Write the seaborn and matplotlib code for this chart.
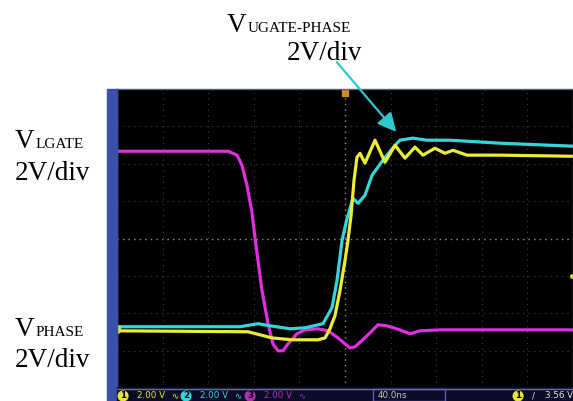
import pandas as pd
import matplotlib
matplotlib.use("Agg")
import matplotlib.pyplot as plt
import seaborn as sns
from matplotlib.patches import Rectangle, FancyArrowPatch

# time in ns (40 ns/div), level in V on screen (2 V/div, 0 = centre graticule line)
lgate_t = [-200, -102.6, -94.7, -90.4, -86.0, -81.6, -78.9, -72.8, -67.5, -63.2, -58.8,
           -54.4, -50.0, -42.1, -35.1, -23.7, -14.9, -6.1, 0, 4.4, 8.8, 19.3, 28.9, 36.8,
           48.2, 57.0, 65.8, 83.3, 200]
lgate_v = [4.67, 4.67, 4.46, 3.92, 2.85, 1.40, 0.00, -2.79, -4.56, -5.64, -6.01,
           -6.01, -5.64, -5.10, -4.89, -4.83, -4.94, -5.32, -5.64, -5.85, -5.80, -5.21, -4.62, -4.67,
           -4.89, -5.10, -4.94, -4.89, -4.89]

ugate_t = [-200, -92.1, -76.3, -65.8, -48.2, -35.1, -23.7, -19.3, -11.4, -7.0, -2.6, 1.8,
           7.0, 11.4, 17.5, 23.7, 33.3, 43.9, 48.2, 59.6, 71.9, 92.1, 136.0, 200]
ugate_v = [-4.72, -4.72, -4.56, -4.67, -4.83, -4.78, -4.62, -4.56, -3.70, -2.25, -0.11, 1.07,
           2.15, 1.88, 2.31, 3.38, 4.19, 4.99, 5.26, 5.37, 5.26, 5.26, 5.10, 4.94]

phase_t = [-200, -85.1, -64.0, -46.5, -23.7, -17.5, -13.2, -8.8, -4.4, 0, 2.6, 5.3, 7.9,
           10.5, 13.2, 17.5, 26.3, 35.1, 43.9, 52.6, 61.4, 68.4, 78.9, 87.7, 94.7, 107.0,
           136.0, 200]
phase_v = [-4.94, -4.99, -5.32, -5.42, -5.42, -5.32, -4.83, -4.13, -2.79, -1.18, -0.11, 1.23, 3.11,
           4.35, 4.56, 4.03, 5.26, 4.08, 4.99, 4.30, 4.89, 4.46, 4.83, 4.56, 4.72, 4.46,
           4.46, 4.40]

ch_scales = ["2.00 V", "2.00 V", "2.00 V"]
timebase = "40.0ns"
trig_level = "3.56 V"

sns.set_theme(style="dark")
plt.rcParams["font.family"] = ["Liberation Serif", "DejaVu Serif"]

W, H = 573, 401
fig = plt.figure(figsize=(W / 100, H / 100), dpi=100)
fig.patch.set_facecolor("white")


def fx(px):
    return px / W


def fy(py):
    return 1 - py / H


# blue bezel on the left and the status bar
fig.patches.append(Rectangle((fx(107), fy(401)), (117 - 107) / W, (401 - 89) / H,
                             transform=fig.transFigure, color="#3b50a8", zorder=0))
fig.patches.append(Rectangle((fx(117), fy(401)), (573 - 117) / W, (401 - 387) / H,
                             transform=fig.transFigure, color="#0c0c28", zorder=0))

ax = fig.add_axes([fx(117), fy(388), (573 - 117) / W, (388 - 89) / H])
ax.set_facecolor("black")

traces = [
    (lgate_t, lgate_v, "#e02ee0"),
    (ugate_t, ugate_v, "#34d6dc"),
    (phase_t, phase_v, "#ecec34"),
]
for t, v, col in traces:
    df = pd.DataFrame({"t": t, "v": v})
    sns.lineplot(data=df, x="t", y="v", color=col, lw=2.3, sort=False,
                 estimator=None, ax=ax, solid_joinstyle="round", solid_capstyle="round")

ax.set_xlim(-200, 200)
ax.set_ylim(-8, 8)
ax.set_xticks(range(-200, 201, 40))
ax.set_yticks(range(-8, 9, 2))
ax.set_xticklabels([])
ax.set_yticklabels([])
ax.set_xlabel("")
ax.set_ylabel("")
ax.tick_params(length=0)
ax.grid(True, color="#444444", ls=(0, (1, 4)), lw=0.8)
ax.axhline(0, color="#8a8a8a", ls=(0, (1, 3)), lw=1.0, zorder=1)
ax.axvline(0, color="#8a8a8a", ls=(0, (1, 3)), lw=1.0, zorder=1)
for s in ax.spines.values():
    s.set_color("#55607e")
    s.set_linewidth(1.0)

# trigger position, ground and trigger level markers
ax.plot([0], [7.8], marker="s", color="#d08a20", ms=5, clip_on=False)
ax.plot([-201], [-4.83], marker="o", color="#e6e634", ms=6, clip_on=False)
ax.plot([199], [-1.99], marker="o", color="#e6e634", ms=2.5, clip_on=False)

# status bar
fig.add_artist(plt.Line2D([fx(117), fx(573)], [fy(388.5), fy(388.5)], color="#6a72a0", lw=1))
fig.patches.append(Rectangle((fx(373), fy(401)), (445 - 373) / W, (401 - 389) / H,
                             transform=fig.transFigure, fc="none", ec="#4f60b8", lw=1))
bar_y = fy(398.5)
bar_font = dict(fontsize=6.3, family="DejaVu Sans", va="baseline")
ch_cols = ["#e6e634", "#34d6dc", "#b030b0"]
ch_x = [120, 183, 247]
for i, (x0, col, sc) in enumerate(zip(ch_x, ch_cols, ch_scales)):
    fig.text(fx(x0), bar_y, str(i + 1), color="black", fontweight="bold",
             bbox=dict(boxstyle="circle,pad=0.12", fc=col, ec="none"), **bar_font)
    fig.text(fx(x0 + 17), bar_y, sc, color=col, **bar_font)
    fig.text(fx(x0 + 51), bar_y, "∿", color=col, **bar_font)
fig.text(fx(378), bar_y, timebase, color="#c8c8c8", **bar_font)
fig.text(fx(515), bar_y, "1", color="black", fontweight="bold",
         bbox=dict(boxstyle="circle,pad=0.12", fc="#e6e634", ec="none"), **bar_font)
fig.text(fx(532), bar_y, "/", color="#e0e0e0", **bar_font)
fig.text(fx(545), bar_y, trig_level, color="#e0e0e0", **bar_font)

# channel annotations
big, small = 19.5, 11
label_font = dict(color="black", va="baseline")
fig.text(fx(15), fy(148), "V", fontsize=big, **label_font)
fig.text(fx(36), fy(148), "LGATE", fontsize=small, **label_font)
fig.text(fx(15), fy(180), "2V/div", fontsize=big, **label_font)

fig.text(fx(15), fy(336), "V", fontsize=big, **label_font)
fig.text(fx(36), fy(336), "PHASE", fontsize=small, **label_font)
fig.text(fx(15), fy(367), "2V/div", fontsize=big, **label_font)

fig.text(fx(227), fy(32), "V", fontsize=big, **label_font)
fig.text(fx(248), fy(32), "UGATE-PHASE", fontsize=small, **label_font)
fig.text(fx(287), fy(60), "2V/div", fontsize=big, **label_font)

arrow = FancyArrowPatch((fx(335), fy(60)), (fx(398), fy(134)), transform=fig.transFigure,
                        arrowstyle="-|>,head_length=0.8,head_width=0.4", mutation_scale=14,
                        color="#2ec8cc", lw=1.6, zorder=5)
fig.add_artist(arrow)

fig.savefig("out.png", dpi=100)
